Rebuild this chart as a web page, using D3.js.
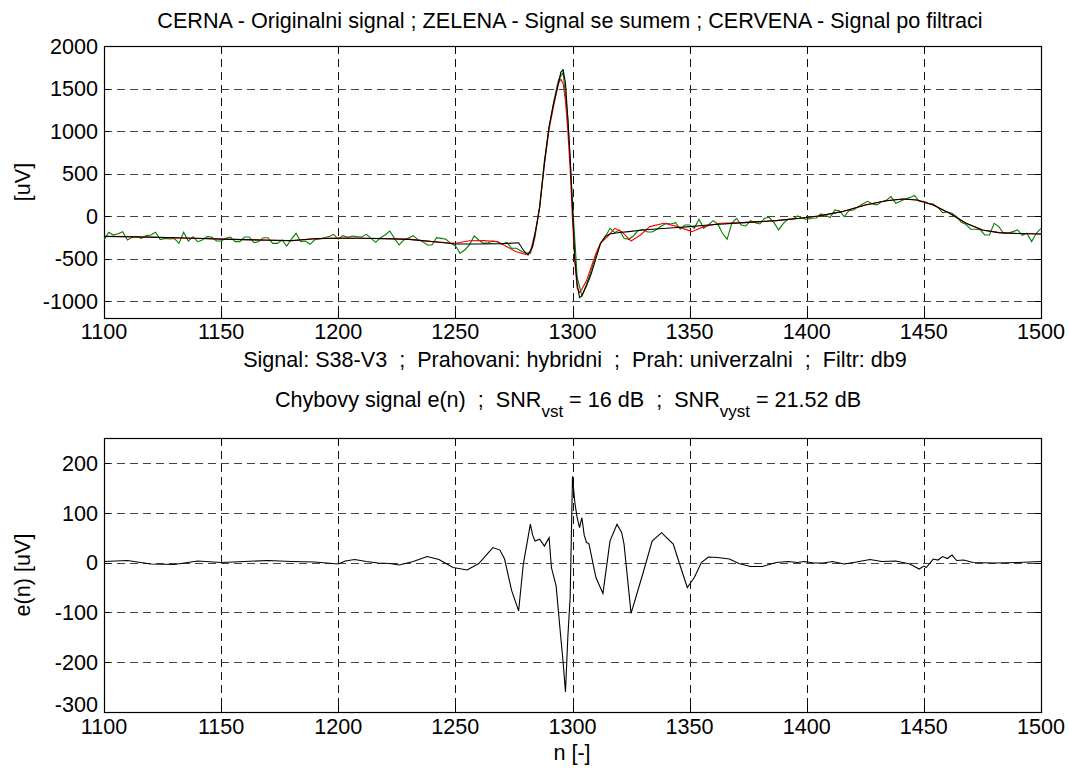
<!DOCTYPE html>
<html>
<head>
<meta charset="utf-8">
<script src="https://cdn.jsdelivr.net/npm/d3@7"></script>
<style>
  html, body { margin: 0; padding: 0; background: #fff; }
  svg { display: block; }
  text { font-family: "Liberation Sans", Arial, Helvetica, sans-serif; fill: #000; white-space: pre; }
</style>
</head>
<body>
<svg id="chart" width="1069" height="769"></svg>
<script>
// ---------------- data ----------------
const xTicks = [1100, 1150, 1200, 1250, 1300, 1350, 1400, 1450, 1500];
const topYTicks = [-1000, -500, 0, 500, 1000, 1500, 2000];
const botYTicks = [-300, -200, -100, 0, 100, 200];

const topTitle = "CERNA - Originalni signal ; ZELENA - Signal se sumem ; CERVENA - Signal po filtraci";
const topXLabel = "Signal: S38-V3  ;  Prahovani: hybridni  ;  Prah: univerzalni  ;  Filtr: db9";
const topYLabel = "[uV]";
const botYLabel = "e(n) [uV]";
const botXLabel = "n [-]";

// noisy signal (green), sampled every 2 samples starting at n = 1100
const greenStart = 1100;
const greenStep = 2;
const green = [
  -282,-192,-224,-208,-184,-282,-251,-243,-263,-231,
  -224,-192,-278,-263,-271,-263,-322,-192,-294,-243,
  -302,-282,-243,-247,-294,-294,-263,-247,-302,-302,
  -247,-247,-314,-302,-255,-255,-322,-322,-282,-353,
  -271,-204,-302,-294,-333,-278,-271,-255,-243,-216,
  -271,-231,-251,-235,-243,-247,-216,-263,-310,-255,
  -224,-177,-263,-341,-282,-259,-231,-278,-302,-341,
  -341,-255,-263,-274,-322,-349,-439,-400,-341,-235,
  -282,-322,-314,-294,-306,-333,-310,-380,-380,-412,
  -439,-440,-250,120,650,1050,1350,1600,1690,1150,
  150,-720,-940,-800,-640,-458,-321,-243,-145,-196,
  -164,-262,-274,-235,-172,-160,-188,-188,-156,-117,
  -86,-94,-78,-156,-105,-105,-145,-39,-145,-105,
  -54,-94,-203,-274,-86,-27,-105,-117,-54,-78,
  -94,-27,-15,-78,-164,-86,-39,-39,0,-27,
  -39,-27,-23,24,8,-19,71,59,-7,63,
  71,110,145,173,141,130,169,185,228,150,
  173,200,216,243,173,173,149,141,102,40,
  47,32,-7,-74,-101,-156,-156,-160,-223,-223,
  -86,-125,-203,-203,-184,-164,-227,-203,-301,-203,
  -145
];

// original signal (black)
const blackN = [1100,1110,1120,1130,1140,1150,1160,1170,1180,1190,1200,1210,1220,1230,1240,1250,1260,1270,1277,1279,1281,1283,1285,1286,1288,1290,1292,1294,1295,1296,1297,1298,1299,1300,1301,1302,1303,1304,1306,1308,1310,1312,1314,1316,1320,1324,1330,1337,1345,1350,1358,1373,1387,1397,1405,1415,1425,1434,1441,1447,1454,1461,1468,1475,1482,1490,1500];
const blackV = [-240,-245,-248,-255,-262,-272,-278,-285,-290,-268,-262,-262,-266,-275,-300,-329,-330,-325,-315,-400,-460,-360,-60,110,620,1050,1330,1560,1690,1720,1560,1150,700,100,-500,-800,-960,-940,-820,-680,-500,-320,-240,-211,-195,-184,-164,-150,-135,-125,-105,-78,-54,-27,0,51,130,180,200,188,130,32,-86,-164,-196,-205,-212];

// filtered signal (red)
const redN = [1100,1110,1120,1130,1140,1150,1160,1170,1180,1190,1200,1210,1220,1230,1240,1250,1256,1262,1268,1272,1276,1280,1282,1284,1286,1288,1290,1292,1294,1295,1296,1297,1298,1299,1300,1301,1302,1303,1304,1306,1308,1310,1312,1315,1318,1321,1325,1329,1333,1339,1345,1351,1356,1363,1373,1387,1397,1405,1415,1425,1434,1441,1447,1454,1461,1468,1475,1482,1490,1500];
const redV = [-240,-243,-250,-257,-264,-270,-280,-283,-292,-266,-260,-262,-268,-272,-302,-320,-292,-290,-300,-361,-420,-451,-420,-200,100,600,1020,1300,1560,1610,1560,1350,1000,550,-50,-550,-850,-900,-860,-760,-600,-440,-320,-243,-145,-184,-294,-223,-125,-86,-125,-184,-125,-86,-78,-54,-27,0,51,130,180,200,188,130,32,-86,-164,-196,-205,-212];

// error signal e(n)
const errN = [1100,1110,1120,1130,1140,1150,1160,1170,1180,1190,1200,1203,1207,1212,1217,1222,1226,1232,1238,1243,1249,1255,1260,1266,1269,1271,1274,1277,1279,1281,1282,1283,1284,1286,1288,1290,1291,1293,1295,1296,1297,1298,1299,1300,1301,1302,1303,1304,1305,1306,1307,1310,1313,1316,1319,1321,1322,1325,1330,1334,1338,1343,1346,1349,1352,1355,1358,1362,1367,1371,1376,1381,1387,1392,1396,1399,1403,1407,1411,1416,1420,1427,1432,1438,1444,1448,1450,1451,1454,1456,1458,1460,1462,1464,1467,1471,1480,1490,1500];
const errV = [2,4,-3,-4,3,0,2,4,2,1,-3,3,6,2,-1,-2,-5,2,12,6,-10,-15,-2,30,25,7,-56,-97,-3,50,77,55,43,47,33,50,-10,-47,-150,-200,-260,-150,-70,173,120,90,70,90,55,40,38,-30,-62,43,77,60,37,-102,-23,43,60,37,-7,-50,-30,0,11,10,7,-2,-8,-8,0,2,0,2,-1,-1,2,-3,0,6,2,3,-3,-13,-7,-10,7,5,12,8,15,4,5,0,-1,0,2];

// ---------------- drawing ----------------
const svg = d3.select("#chart");
const FS = 21.6;
const left = 104, right = 1041;

const x = d3.scaleLinear().domain([1100, 1500]).range([left, right]);

const topY = d3.scaleLinear().domain([-1200, 2000]).range([318, 46]);
const botY = d3.scaleLinear().domain([-300, 250]).range([712, 438]);

function drawAxes(y, yTicks, top, bottom) {
  const g = svg.append("g");
  // grid
  const gx = xTicks.filter(t => x(t) > left + 1 && x(t) < right - 1);
  g.selectAll(".vg").data(gx).enter().append("line")
    .attr("x1", d => Math.round(x(d)) + 0.5).attr("x2", d => Math.round(x(d)) + 0.5)
    .attr("y1", top).attr("y2", bottom)
    .attr("stroke", "#111").attr("stroke-width", 1).attr("stroke-dasharray", "8,5");
  const [ymin, ymax] = y.domain();
  const gy = yTicks.filter(t => t > ymin && t < ymax && Math.abs(y(t) - top) > 1 && Math.abs(y(t) - bottom) > 1);
  g.selectAll(".hg").data(gy).enter().append("line")
    .attr("x1", left).attr("x2", right)
    .attr("y1", d => Math.round(y(d)) + 0.5).attr("y2", d => Math.round(y(d)) + 0.5)
    .attr("stroke", "#444").attr("stroke-width", 1).attr("stroke-dasharray", "8,5");
  // ticks (inside, all sides)
  const tl = 6;
  xTicks.forEach(t => {
    const xx = Math.round(x(t)) + 0.5;
    g.append("line").attr("x1", xx).attr("x2", xx).attr("y1", bottom).attr("y2", bottom - tl).attr("stroke", "#000");
    g.append("line").attr("x1", xx).attr("x2", xx).attr("y1", top).attr("y2", top + tl).attr("stroke", "#000");
  });
  yTicks.forEach(t => {
    const yy = Math.round(y(t)) + 0.5;
    g.append("line").attr("x1", left).attr("x2", left + tl).attr("y1", yy).attr("y2", yy).attr("stroke", "#000");
    g.append("line").attr("x1", right).attr("x2", right - tl).attr("y1", yy).attr("y2", yy).attr("stroke", "#000");
  });
  // box
  g.append("rect").attr("x", left + 0.5).attr("y", top + 0.5)
    .attr("width", right - left).attr("height", bottom - top)
    .attr("fill", "none").attr("stroke", "#000").attr("stroke-width", 1.2);
  // tick labels (the label sitting on the lower edge is lifted a little, as in the reference)
  g.selectAll(".yl").data(yTicks).enter().append("text")
    .attr("x", 98).attr("y", d => Math.abs(y(d) - bottom) < 1 ? y(d) - 8 : y(d))
    .attr("dy", "0.36em")
    .attr("text-anchor", "end").attr("font-size", FS)
    .text(d => d);
  return g;
}

function drawXLabels(baseline) {
  svg.append("g").selectAll("text").data(xTicks).enter().append("text")
    .attr("x", d => x(d)).attr("y", baseline)
    .attr("text-anchor", "middle").attr("font-size", FS)
    .text(d => d);
}

// top panel
drawAxes(topY, topYTicks, 46, 318);
drawXLabels(339);

svg.append("clipPath").attr("id", "clipTop")
  .append("rect").attr("x", left).attr("y", 46).attr("width", right - left).attr("height", 318 - 46);

const lineTop = d3.line().x(d => x(d[0])).y(d => topY(d[1]));
const greenPts = green.map((v, i) => [greenStart + i * greenStep, v]);
const redPts = redN.map((n, i) => [n, redV[i]]);
const blackPts = blackN.map((n, i) => [n, blackV[i]]);

const gTop = svg.append("g").attr("clip-path", "url(#clipTop)");
gTop.append("path").attr("d", lineTop(greenPts)).attr("fill", "none").attr("stroke", "#008000").attr("stroke-width", 1.1);
gTop.append("path").attr("d", lineTop(redPts)).attr("fill", "none").attr("stroke", "#ff0000").attr("stroke-width", 1.1);
gTop.append("path").attr("d", lineTop(blackPts)).attr("fill", "none").attr("stroke", "#000").attr("stroke-width", 1.1);

// top texts
svg.append("text").attr("x", 570).attr("y", 28).attr("text-anchor", "middle").attr("font-size", FS).text(topTitle);
svg.append("text").attr("x", 575).attr("y", 367).attr("text-anchor", "middle").attr("font-size", FS).text(topXLabel);
svg.append("text").attr("transform", "translate(30,182) rotate(-90)").attr("text-anchor", "middle").attr("font-size", FS).text(topYLabel);

// bottom panel
drawAxes(botY, botYTicks, 438, 712);
drawXLabels(734);

const lineBot = d3.line().x(d => x(d[0])).y(d => botY(d[1]));
const errPts = errN.map((n, i) => [n, errV[i]]);
svg.append("path").attr("d", lineBot(errPts)).attr("fill", "none").attr("stroke", "#000").attr("stroke-width", 1.1);

// bottom title with subscripts
const bt = svg.append("text").attr("x", 568).attr("y", 407).attr("text-anchor", "middle").attr("font-size", FS);
bt.append("tspan").text("Chybovy signal e(n)  ;  SNR");
bt.append("tspan").attr("font-size", 17).attr("dy", 10).text("vst");
bt.append("tspan").attr("dy", -10).text(" = 16 dB  ;  SNR");
bt.append("tspan").attr("font-size", 17).attr("dy", 10).text("vyst");
bt.append("tspan").attr("dy", -10).text(" = 21.52 dB");

svg.append("text").attr("x", 572).attr("y", 760).attr("text-anchor", "middle").attr("font-size", FS).text(botXLabel);
svg.append("text").attr("transform", "translate(30,575) rotate(-90)").attr("text-anchor", "middle").attr("font-size", FS).text(botYLabel);
</script>
</body>
</html>
